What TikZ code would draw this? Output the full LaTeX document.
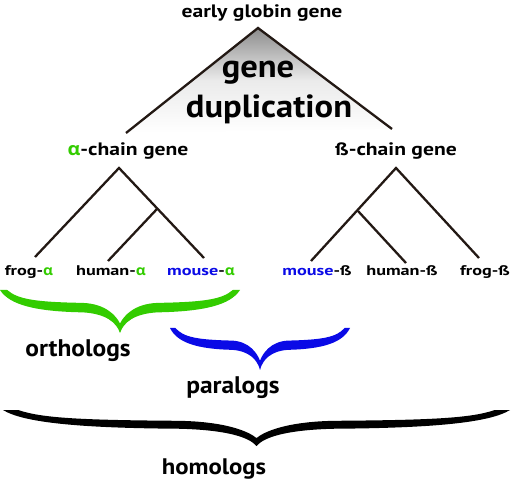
\documentclass[tikz,border=0pt]{standalone}
\usepackage{fontspec}
\setmainfont{PT Sans}
\newfontfamily\fhead{PT Sans}[FakeStretch=1.2]
\newfontfamily\fleaf{PT Sans}[FakeStretch=1.3]
\newfontfamily\fbig{PT Sans}[FakeStretch=1.08]
\newfontfamily\fgrp{PT Sans}[FakeStretch=1.06]
\newfontfamily\fhomo{PT Sans}[FakeStretch=1.1]
\newfontfamily\fgreek{Open Sans}[FakeStretch=1.1]
\newcommand{\alf}{{\fgreek\bfseries α}}
\definecolor{agreen}{HTML}{33CC00}
\definecolor{mblue}{HTML}{0A0AE6}
\newcommand{\bracefill}[6]{%
  \begin{scope}[shift={(#1pt,-#2pt)},x=#3pt,y=-#4pt]
  \fill[#5] (-1,0) .. controls (-0.92,0.35) and (-0.7,0.5) .. (-0.31,0.52)
    .. controls (-0.12,0.55) and (-0.03,0.75) .. (0,1)
    .. controls (0.03,0.75) and (0.12,0.55) .. (0.31,0.52)
    .. controls (0.7,0.5) and (0.92,0.35) .. (1,0)
    -- (0.94,0) .. controls (0.85,0.22) and (0.7,0.28) .. (0.31,0.3)
    .. controls (0.12,0.32) and (0.03,0.6) .. (0,0.78)
    .. controls (-0.03,0.6) and (-0.12,0.32) .. (-0.31,0.3)
    .. controls (-0.7,0.28) and (-0.85,0.22) .. (-0.94,0) -- cycle;
  \coordinate (#6) at (0,1);
  \end{scope}}
\begin{document}
\begin{tikzpicture}[x=1pt,y=-1pt,
  lbl/.style={font=\fleaf\bfseries\fontsize{14}{16}\selectfont, anchor=base, inner sep=0pt},
  head/.style={font=\fhead\bfseries\fontsize{18}{20}\selectfont, anchor=base, inner sep=0pt},
  big/.style={font=\fbig\bfseries\fontsize{32}{34}\selectfont, anchor=base, inner sep=0pt},
  grp/.style={font=\fgrp\bfseries\fontsize{24}{26}\selectfont, anchor=base, inner sep=0pt},
  branch/.style={line width=2.3pt, draw={rgb,255:red,35;green,25;blue,20}, line cap=butt}]
\useasboundingbox (0,0) rectangle (512,481);
% top duplication triangle
\coordinate (top) at (258,28);
\coordinate (tl) at (126,133);
\coordinate (tr) at (392,129);
\shade[top color=black!45, bottom color=white, middle color=black!8] (top) -- (tl) -- (tr) -- cycle;
\draw[branch] (tl) -- (top) -- (tr);
\node[head] (early) at (262,18) {early globin gene};
\node[big] (gene) at (258,78) {gene};
\node[big] (dup) at (269,118) {duplication};
\node[head] (achain) at (128,156) {\textcolor{agreen}{\alf}-chain gene};
\node[head] (bchain) at (396,156) {ß-chain gene};
% alpha tree
\coordinate (a0) at (119,168);
\coordinate (a1) at (157,209);
\coordinate (af) at (35,257);
\coordinate (ah) at (108,261);
\coordinate (am) at (204,258);
\draw[branch] (af) -- (a0) -- (am);
\draw[branch] (a1) -- (ah);
% beta tree
\coordinate (b0) at (396,168);
\coordinate (b1) at (358,211);
\coordinate (bm) at (311,261);
\coordinate (bh) at (406,263);
\coordinate (bf) at (479,258);
\draw[branch] (bm) -- (b0) -- (bf);
\draw[branch] (b1) -- (bh);
% leaves
\node[lbl] (frogA) at (29,276) {frog-\textcolor{agreen}{\alf}};
\node[lbl] (humanA) at (111,276) {human-\textcolor{agreen}{\alf}};
\node[lbl] (mouseA) at (201,276) {\textcolor{mblue}{mouse}-\textcolor{agreen}{\alf}};
\node[lbl] (mouseB) at (317,276) {\textcolor{mblue}{mouse}-ß};
\node[lbl] (humanB) at (402,276) {human-ß};
\node[lbl] (frogB) at (485,276) {frog-ß};
% braces
\bracefill{120}{290}{120}{43}{agreen}{otip}
\bracefill{260}{328}{90}{42}{mblue}{ptip}
\bracefill{256.5}{410}{253.5}{36}{black}{htip}
\node[grp] (orth) at (78,357) {orthologs};
\node[grp] (para) at (233,393) {paralogs};
\node[grp, font=\fhomo\bfseries\fontsize{22.5}{24}\selectfont] (homo) at (214,474) {homologs};
\end{tikzpicture}
\end{document}
